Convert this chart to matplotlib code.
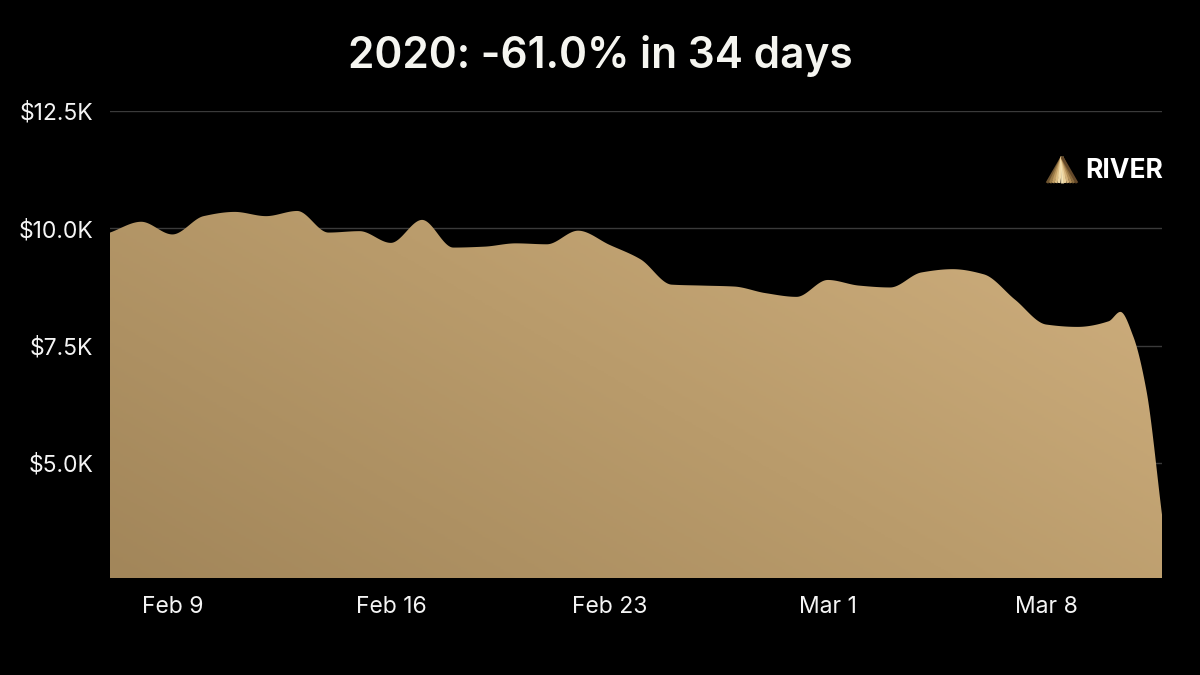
import numpy as np
import pandas as pd
import matplotlib
matplotlib.use("Agg")
import matplotlib.pyplot as plt
import matplotlib.dates as mdates
from matplotlib.colors import LinearSegmentedColormap
from matplotlib.patches import Polygon

# BTC price (thousand USD)
dates = [
    "2020-02-07 00:00", "2020-02-08 00:00", "2020-02-09 00:00", "2020-02-10 00:00", "2020-02-11 00:00",
    "2020-02-12 00:00", "2020-02-13 00:00", "2020-02-14 00:00", "2020-02-15 00:00", "2020-02-16 00:00",
    "2020-02-17 00:00", "2020-02-18 00:00", "2020-02-19 00:00", "2020-02-20 00:00", "2020-02-21 00:00",
    "2020-02-22 00:00", "2020-02-23 00:00", "2020-02-24 00:00", "2020-02-25 00:00", "2020-02-26 00:00",
    "2020-02-27 00:00", "2020-02-28 00:00", "2020-02-29 00:00", "2020-03-01 00:00", "2020-03-02 00:00",
    "2020-03-03 00:00", "2020-03-04 00:00", "2020-03-05 00:00", "2020-03-06 00:00", "2020-03-07 00:00",
    "2020-03-08 00:00", "2020-03-09 00:00", "2020-03-10 00:00", "2020-03-10 09:00",
    "2020-03-10 19:00", "2020-03-11 05:00", "2020-03-11 17:00",
]
price_k = [
    9.91, 10.14, 9.87, 10.26, 10.35,
    10.26, 10.37, 9.91, 9.94, 9.69,
    10.18, 9.59, 9.61, 9.68, 9.66,
    9.95, 9.65, 9.34, 8.80, 8.78,
    8.76, 8.62, 8.54, 8.90, 8.78,
    8.74, 9.06, 9.13, 9.02, 8.48,
    7.95, 7.90, 8.02, 8.22,
    7.69, 6.55, 3.90,
]
y_ticks = [5.0, 7.5, 10.0, 12.5]
y_tick_labels = ["$5.0K", "$7.5K", "$10.0K", "$12.5K"]
x_ticks = ["2020-02-09", "2020-02-16", "2020-02-23", "2020-03-01", "2020-03-08"]
title = "2020: -61.0% in 34 days"

BG = "#000000"
FONT = ["Inter", "DejaVu Sans"]


def monotone_curve(x, y, n=30):
    # monotone cubic (like d3 curveMonotoneX) just for drawing the smooth edge
    x = np.asarray(x, float)
    y = np.asarray(y, float)
    h = np.diff(x)
    d = np.diff(y) / h
    m = np.zeros_like(y)
    m[0], m[-1] = d[0], d[-1]
    for i in range(1, len(y) - 1):
        if d[i - 1] * d[i] > 0:
            w1 = 2 * h[i] + h[i - 1]
            w2 = h[i] + 2 * h[i - 1]
            m[i] = (w1 + w2) / (w1 / d[i - 1] + w2 / d[i])
    xs, ys = [], []
    for i in range(len(x) - 1):
        t = np.linspace(0, 1, n, endpoint=False)
        h00 = 2 * t**3 - 3 * t**2 + 1
        h10 = t**3 - 2 * t**2 + t
        h01 = -2 * t**3 + 3 * t**2
        h11 = t**3 - t**2
        xs.append(x[i] + t * h[i])
        ys.append(h00 * y[i] + h10 * h[i] * m[i] + h01 * y[i + 1] + h11 * h[i] * m[i + 1])
    xs.append([x[-1]])
    ys.append([y[-1]])
    return np.concatenate(xs), np.concatenate(ys)


x = mdates.date2num(pd.to_datetime(dates, format="%Y-%m-%d %H:%M"))
xs, ys = monotone_curve(x, price_k)

fig = plt.figure(figsize=(12, 6.75), dpi=100, facecolor=BG)
ax = fig.add_axes([110 / 1200, 1 - 578 / 675, 1052 / 1200, 467 / 675])
ax.set_facecolor(BG)

y_min = 2.55
ax.set_xlim(x[0], x[-1])
ax.set_ylim(y_min, 12.5)

# gradient fill clipped to the area under the curve
cmap = LinearSegmentedColormap.from_list("gold", ["#a2865a", "#b99b6b", "#d0b07f"])
gx, gy = np.meshgrid(np.linspace(0, 1, 300), np.linspace(0, 1, 300))
grad = 0.62 * gx + 0.38 * gy
img = ax.imshow(grad, cmap=cmap, origin="lower", aspect="auto",
                extent=[x[0], x[-1], y_min, 10.5], zorder=2, interpolation="bilinear")
verts = np.column_stack([np.r_[xs, x[-1], x[0]], np.r_[ys, y_min, y_min]])
clip = Polygon(verts, closed=True, transform=ax.transData, facecolor="none", edgecolor="none")
ax.add_patch(clip)
img.set_clip_path(clip)

# grid
for v in y_ticks:
    ax.axhline(v, color="#3a3a3a", lw=1.0, zorder=1)

for s in ax.spines.values():
    s.set_visible(False)

ax.set_yticks(y_ticks)
ax.set_yticklabels(y_tick_labels)
ax.set_xticks(mdates.date2num(pd.to_datetime(x_ticks)))
ax.xaxis.set_major_formatter(mdates.DateFormatter("%b %-d"))
ax.tick_params(axis="both", length=0, colors="#f4f4f4", labelsize=16.5)
ax.tick_params(axis="y", pad=12)
ax.tick_params(axis="x", pad=13)
for lab in ax.get_xticklabels() + ax.get_yticklabels():
    lab.set_family(FONT)

fig.text(0.5, 1 - 56 / 675, title, ha="center", va="center", color="#f5f5f0",
         fontsize=30.5, fontweight="semibold", family=FONT)

# RIVER logo (top right)
apex = (1062 / 1200, 1 - 157 / 675)
shades = ["#6e5430", "#9a7a47", "#c09c62", "#dcbd82", "#f2dcaa", "#f6e4b6",
          "#ead09a", "#d2b078", "#b08c56", "#8a6b3d", "#65492a"]
for bx, shade in zip(np.linspace(1047, 1077, len(shades)), shades):
    fig.add_artist(plt.Line2D([apex[0], bx / 1200], [apex[1], 1 - 183 / 675],
                              color=shade, lw=2.0, transform=fig.transFigure,
                              solid_capstyle="butt"))
fig.text(1163 / 1200, 1 - 171 / 675, "RIVER", ha="right", va="center", color="#ffffff",
         fontsize=19, fontweight="bold", family=FONT)

fig.savefig("out.png", dpi=100, facecolor=BG)
